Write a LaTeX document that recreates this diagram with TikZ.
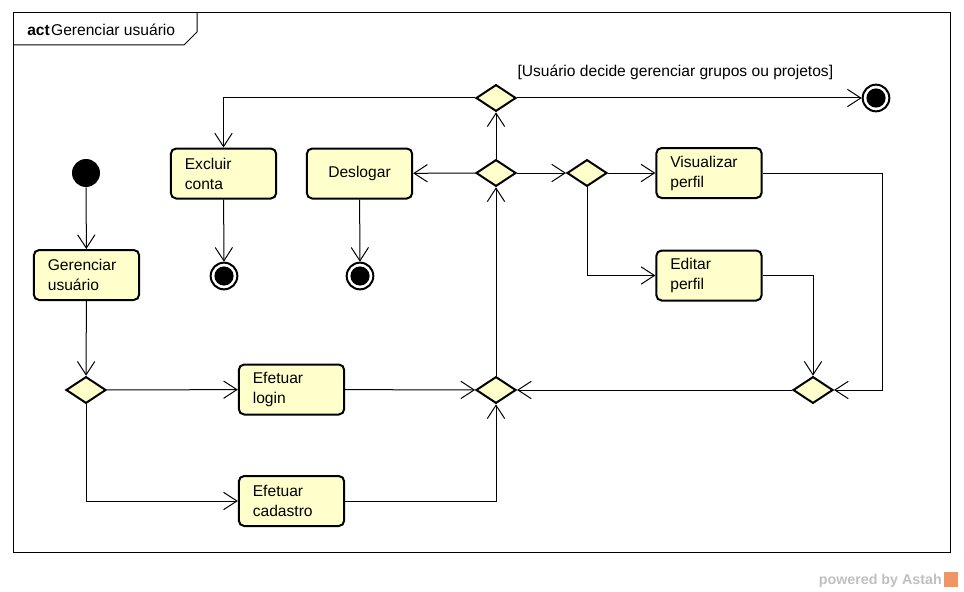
\documentclass[tikz,border=0pt]{standalone}
\usepackage{fontspec}
\setmainfont{Liberation Sans}
\usetikzlibrary{shapes.geometric,arrows.meta}
\definecolor{amarelo}{RGB}{255,255,204}
\definecolor{marcacinza}{RGB}{192,192,192}
\definecolor{astahlaranja}{RGB}{240,150,100}
\begin{document}
\begin{tikzpicture}[x=0.75pt,y=-0.75pt,
  acao/.style={draw,rounded corners=4pt,line width=1.5pt,fill=amarelo,minimum width=79pt,minimum height=37.5pt,text width=58pt,inner xsep=10pt,align=left,font=\fontsize{11.7}{15}\selectfont},
  decisao/.style={diamond,draw,line width=1.5pt,fill=amarelo,minimum width=30pt,minimum height=20pt,inner sep=0pt},
  inicio/.style={circle,fill=black,minimum size=21pt,inner sep=0pt},
  fim/.style={circle,draw,line width=1.5pt,fill=white,minimum size=20pt,inner sep=0pt,path picture={\fill[black] (path picture bounding box.center) circle (7.2pt);}},
  fluxo/.style={draw,line width=0.75pt,-{Straight Barb[length=10pt,width=13pt]}},
  texto/.style={font=\fontsize{11.7}{15}\selectfont,inner sep=0pt}]
\useasboundingbox (0,0) rectangle (964,592);
\draw[line width=0.75pt] (13,13) rectangle (950,552);
\draw[line width=0.75pt] (13,45) -- (184,45) -- (197,32) -- (197,13);
\node[texto,anchor=base west] (titulo) at (27,36) {\textbf{act}\kern1pt Gerenciar usuário};

\node[inicio] (ini) at (86,173) {};
\node[acao] (gerenciar) at (86.5,275) {Gerenciar\\usuário};
\node[decisao] (d1) at (86,390) {};
\node[acao] (login) at (291.5,389.5) {Efetuar\\login};
\node[acao] (cadastro) at (291.5,501) {Efetuar\\cadastro};
\node[decisao] (d2) at (496,390) {};
\node[decisao] (d3) at (813,390) {};
\node[decisao] (d4) at (496,173) {};
\node[decisao] (d5) at (496,98) {};
\node[decisao] (d6) at (587,173) {};
\node[acao] (excluir) at (223.5,173.5) {Excluir\\conta};
\node[acao,align=center] (deslogar) at (359.5,173.5) {Deslogar};
\node[acao] (visualizar) at (709,173) {Visualizar\\perfil};
\node[acao] (editar) at (709,275.5) {Editar\\perfil};
\node[fim] (fim1) at (876,98) {};
\node[fim] (fim2) at (224,276) {};
\node[fim] (fim3) at (360,276) {};
\coordinate (canto) at (882,390);

\path[fluxo] (ini) -- (gerenciar);
\path[fluxo] (gerenciar) -- (d1);
\path[fluxo] (d1) -- (login);
\path[fluxo] (d1) |- (cadastro);
\path[fluxo] (login) -- (d2);
\path[fluxo] (cadastro) -| (d2);
\path[fluxo] (d3) -- (d2);
\path[fluxo] (d2) -- (d4);
\path[fluxo] (d4) -- (deslogar);
\path[fluxo] (d4) -- (d5);
\path[fluxo] (d4) -- (d6);
\path[fluxo] (d5) -- node[texto,pos=0,anchor=base west,yshift=15.75pt] {[Usuário decide gerenciar grupos ou projetos]} (fim1);
\path[fluxo] (d5) -| (excluir);
\path[fluxo] (excluir) -- (fim2);
\path[fluxo] (deslogar) -- (fim3);
\path[fluxo] (d6) -- (visualizar);
\path[fluxo] (d6) |- (editar);
\path[fluxo] (visualizar) -| (canto) -- (d3);
\path[fluxo] (editar) -| (d3);

\node[anchor=base east,inner sep=0pt,text=marcacinza,font=\fontsize{10.7}{12}\bfseries\selectfont] (marca) at (942,584) {powered by Astah};
\fill[astahlaranja] (944,572) rectangle (958,587);
\end{tikzpicture}
\end{document}
